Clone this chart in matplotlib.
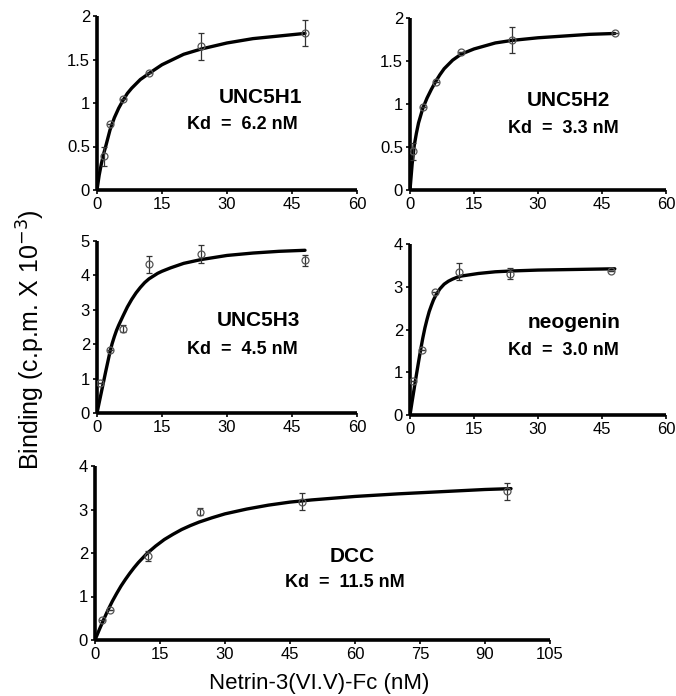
import numpy as np
import matplotlib
matplotlib.use("Agg")
import matplotlib.pyplot as plt

plt.rcParams['font.family'] = ['Liberation Sans', 'DejaVu Sans']

# ---- data ----
names = ["UNC5H1", "UNC5H2", "UNC5H3", "neogenin", "DCC"]
kd_labels = ["Kd  =  6.2 nM", "Kd  =  3.3 nM", "Kd  =  4.5 nM", "Kd  =  3.0 nM", "Kd  =  11.5 nM"]

# measured points (x = Netrin-3 concentration nM, y = binding, e = error)
x_h1 = [1.5, 3, 6, 12, 24, 48]
y_h1 = [0.39, 0.76, 1.05, 1.34, 1.65, 1.80]
e_h1 = [0.11, 0.0, 0.0, 0.0, 0.16, 0.15]

x_h2 = [0.75, 3, 6, 12, 24, 48]
y_h2 = [0.45, 0.97, 1.26, 1.61, 1.74, 1.82]
e_h2 = [0.10, 0.0, 0.0, 0.0, 0.15, 0.0]

x_h3 = [0.75, 3, 6, 12, 24, 48]
y_h3 = [0.86, 1.82, 2.45, 4.32, 4.62, 4.44]
e_h3 = [0.0, 0.0, 0.1, 0.25, 0.25, 0.16]

x_neo = [0.7, 2.8, 5.8, 11.6, 23.5, 47.2]
y_neo = [0.80, 1.53, 2.87, 3.35, 3.30, 3.37]
e_neo = [0.0, 0.0, 0.0, 0.20, 0.13, 0.0]

x_dcc = [1.5, 3.4, 12.2, 24.2, 47.7, 95]
y_dcc = [0.46, 0.70, 1.93, 2.95, 3.18, 3.42]
e_dcc = [0.0, 0.0, 0.12, 0.08, 0.19, 0.20]

# fitted saturation curves
cx_h1 = [0, 0.5, 1, 1.5, 2, 3, 4, 5, 6, 7, 8, 9, 10, 12, 15, 20, 24, 30, 36, 42, 48]
cy_h1 = [0, 0.17, 0.30, 0.41, 0.50, 0.69, 0.83, 0.94, 1.03, 1.11, 1.17, 1.22, 1.27,
         1.34, 1.44, 1.56, 1.62, 1.69, 1.74, 1.77, 1.80]

cx_h2 = [0, 0.5, 1, 1.5, 2, 3, 4, 5, 6, 7, 8, 9, 10, 12, 15, 20, 24, 30, 36, 42, 48]
cy_h2 = [0, 0.30, 0.52, 0.66, 0.78, 0.95, 1.07, 1.17, 1.26, 1.34, 1.41, 1.46, 1.51,
         1.58, 1.64, 1.71, 1.74, 1.77, 1.79, 1.81, 1.82]

cx_h3 = [0, 1, 2, 3, 3.5, 4, 4.5, 5, 6, 7, 8, 9, 10, 11, 12, 13, 14, 15, 17, 20,
         24, 30, 36, 42, 48]
cy_h3 = [0, 0.60, 1.20, 1.78, 2.02, 2.22, 2.40, 2.55, 2.82, 3.08, 3.30, 3.49, 3.65,
         3.79, 3.90, 3.98, 4.06, 4.12, 4.22, 4.35, 4.46, 4.58, 4.65, 4.70, 4.73]

cx_neo = [0, 0.5, 1, 1.5, 2, 2.5, 3, 3.5, 4, 4.5, 5, 5.5, 6, 7, 8, 9, 10, 11, 12,
          14, 16, 18, 20, 24, 30, 36, 42, 48]
cy_neo = [0, 0.32, 0.63, 0.94, 1.24, 1.53, 1.80, 2.04, 2.24, 2.42, 2.56, 2.69, 2.79,
          2.95, 3.06, 3.13, 3.18, 3.22, 3.25, 3.28, 3.31, 3.33, 3.35, 3.37, 3.39,
          3.40, 3.41, 3.42]

cx_dcc = [0, 1, 2, 3, 4, 5, 6, 7, 8, 9, 10, 12, 14, 16, 18, 20, 22, 24, 27, 30,
          35, 40, 45, 50, 60, 70, 80, 90, 96]
cy_dcc = [0, 0.24, 0.47, 0.69, 0.89, 1.07, 1.24, 1.39, 1.53, 1.66, 1.78, 1.99, 2.16,
          2.31, 2.43, 2.54, 2.63, 2.71, 2.81, 2.90, 3.01, 3.10, 3.17, 3.22, 3.30,
          3.36, 3.41, 3.46, 3.48]

xs = [x_h1, x_h2, x_h3, x_neo, x_dcc]
ys = [y_h1, y_h2, y_h3, y_neo, y_dcc]
es = [e_h1, e_h2, e_h3, e_neo, e_dcc]
cxs = [cx_h1, cx_h2, cx_h3, cx_neo, cx_dcc]
cys = [cy_h1, cy_h2, cy_h3, cy_neo, cy_dcc]

xlims = [60, 60, 60, 60, 105]
xticks = [[0, 15, 30, 45, 60]] * 4 + [[0, 15, 30, 45, 60, 75, 90, 105]]
ylims = [2, 2, 5, 4, 4]
yticks = [[0, 0.5, 1, 1.5, 2], [0, 0.5, 1, 1.5, 2], [0, 1, 2, 3, 4, 5],
          [0, 1, 2, 3, 4], [0, 1, 2, 3, 4]]
ytick_labels = [["0", "0.5", "1", "1.5", "2"], ["0", "0.5", "1", "1.5", "2"],
                ["0", "1", "2", "3", "4", "5"], ["0", "1", "2", "3", "4"],
                ["0", "1", "2", "3", "4"]]

# ---- layout ----
W, H = 676, 696
fig = plt.figure(figsize=(W / 100, H / 100), dpi=100)

def px_axes(x0, x1, ytop, ybot):
    return [x0 / W, 1 - ybot / H, (x1 - x0) / W, (ybot - ytop) / H]

rects = [
    px_axes(97, 357, 16, 190),
    px_axes(410, 666, 18, 190),
    px_axes(97, 357, 241, 413),
    px_axes(410, 666, 244, 415),
    px_axes(95, 550, 466, 640),
]
name_pos = [(0.63, 0.53), (0.62, 0.52), (0.62, 0.54), (0.64, 0.54), (0.565, 0.48)]
kd_pos = [(0.56, 0.375), (0.60, 0.36), (0.56, 0.37), (0.60, 0.38), (0.55, 0.33)]

for i in range(5):
    ax = fig.add_axes(rects[i])
    ax.plot(cxs[i], cys[i], color='black', lw=2.4,
            solid_capstyle='round', solid_joinstyle='round', zorder=3)
    ax.errorbar(xs[i], ys[i], yerr=es[i], fmt='o', ms=5, mfc='none',
                mec='#555555', mew=0.9, ecolor='#333333', elinewidth=0.9,
                capsize=2.5, capthick=0.9, zorder=4)
    ax.set_xlim(0, xlims[i])
    ax.set_ylim(0, ylims[i])
    ax.set_xticks(xticks[i])
    ax.set_yticks(yticks[i])
    ax.set_yticklabels(ytick_labels[i])
    for s in ['top', 'right']:
        ax.spines[s].set_visible(False)
    for s in ['left', 'bottom']:
        ax.spines[s].set_linewidth(2.6)
        ax.spines[s].set_capstyle('butt')
    ax.tick_params(axis='both', direction='out', length=3, width=1.2,
                   labelsize=12, pad=2)
    ax.patch.set_alpha(0)
    ax.text(name_pos[i][0], name_pos[i][1], names[i], transform=ax.transAxes,
            ha='center', va='center', fontsize=15, fontweight='bold')
    ax.text(kd_pos[i][0], kd_pos[i][1], kd_labels[i], transform=ax.transAxes,
            ha='center', va='center', fontsize=13, fontweight='bold')

fig.text(31 / W, 1 - 340 / H, r"Binding (c.p.m. X 10$^{-3}$)", rotation=90,
         ha='center', va='center', fontsize=18)
fig.text(319 / W, 1 - 683 / H, "Netrin-3(VI.V)-Fc (nM)", ha='center',
         va='center', fontsize=16)

fig.savefig("out.png", dpi=100)
